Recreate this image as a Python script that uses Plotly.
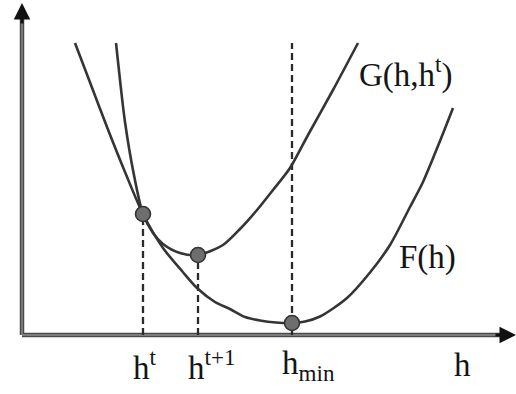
import plotly.graph_objects as go

# ---- data (arbitrary units; y-axis at h=0, x-axis at value 0) ----
F_h = [5.3, 6.9, 8.5, 10.3, 12.1, 14.1, 16.0, 17.5, 19.3, 20.8, 22.3, 23.8, 25.4, 27.0,
       28.3, 29.8, 32.5, 34.8, 36.8, 38.8, 40.1, 41.8, 43.1]
F_v = [29.2, 25.0, 20.8, 16.3, 12.1, 8.7, 6.4, 4.7, 3.3, 2.6, 1.8, 1.45, 1.25, 1.2,
       1.35, 1.85, 3.7, 6.25, 9.0, 12.8, 15.3, 19.4, 22.7]

G_h = [9.4, 9.8, 10.3, 11.1, 12.1, 13.1, 14.1, 15.8, 17.6, 20.1, 21.8, 23.5, 25.1, 26.8,
       28.6, 31.1, 33.6]
G_v = [29.2, 25.5, 21.3, 16.5, 12.1, 10.2, 9.1, 8.2, 8.0, 9.0, 10.6, 12.5, 14.5, 16.7,
       20.0, 24.5, 29.2]

pt_h = [12.1, 17.6, 27.0]      # h^t, h^{t+1}, h_min
pt_v = [12.1, 8.0, 1.2]        # values at those points
dash_top = [12.1, 8.0, 29.2]   # top of dashed guide lines
pt_labels = ["h<sup>t</sup>", "h<sup>t+1</sup>", "h<sub>min</sub>"]

X_MAX = 49.4
Y_MAX = 33.2

FONT = "Liberation Serif"
CURVE = "#353535"

fig = go.Figure()

# dashed guide lines
for h, top in zip(pt_h, dash_top):
    fig.add_trace(go.Scatter(x=[h, h], y=[0, top], mode="lines",
                             line=dict(color="#2a2a2a", width=2.3, dash="7px,4px"),
                             hoverinfo="skip", showlegend=False))

# curves
fig.add_trace(go.Scatter(x=F_h, y=F_v, mode="lines",
                         line=dict(color=CURVE, width=2.6, shape="spline", smoothing=0.8),
                         showlegend=False))
fig.add_trace(go.Scatter(x=G_h, y=G_v, mode="lines",
                         line=dict(color=CURVE, width=2.6, shape="spline", smoothing=0.8),
                         showlegend=False))

# points
fig.add_trace(go.Scatter(x=pt_h, y=pt_v, mode="markers",
                         marker=dict(size=15, color="#6e6e6e",
                                     line=dict(color="#333333", width=1.6)),
                         showlegend=False))

# axes lines
axis_style = [("#4a4a4a", 4.5), ("#8c8c8c", 1.4)]
for col, w in axis_style:
    fig.add_shape(type="line", x0=0, y0=0, x1=X_MAX - 1.5, y1=0,
                  line=dict(color=col, width=w), layer="below")
    fig.add_shape(type="line", x0=0, y0=0, x1=0, y1=Y_MAX - 1.5,
                  line=dict(color=col, width=w), layer="below")

# arrow heads
fig.add_annotation(x=X_MAX, y=0, ax=X_MAX - 2.2, ay=0, axref="x", ayref="y",
                   xref="x", yref="y", showarrow=True, arrowhead=2,
                   arrowsize=1.1, arrowwidth=3, arrowcolor="#111111", text="")
fig.add_annotation(x=0, y=Y_MAX, ax=0, ay=Y_MAX - 2.2, axref="x", ayref="y",
                   xref="x", yref="y", showarrow=True, arrowhead=2,
                   arrowsize=1.1, arrowwidth=3, arrowcolor="#111111", text="")

# labels
lab_font = dict(family=FONT, size=33, color="#151515")
for h, txt in zip(pt_h, pt_labels):
    fig.add_annotation(x=h - 1.25, y=-3.0, text=txt, showarrow=False,
                       xanchor="left", yanchor="middle", font=lab_font)
fig.add_annotation(x=43.0, y=-3.0, text="h", showarrow=False,
                   xanchor="left", yanchor="middle", font=lab_font)
fig.add_annotation(x=33.5, y=26.3, text="G(h,h<sup>t</sup>)", showarrow=False,
                   xanchor="left", yanchor="middle", font=lab_font)
fig.add_annotation(x=37.5, y=7.8, text="F(h)", showarrow=False,
                   xanchor="left", yanchor="middle", font=lab_font)

fig.update_layout(
    width=516, height=394,
    margin=dict(l=0, r=0, t=0, b=0),
    paper_bgcolor="white", plot_bgcolor="white",
    xaxis=dict(range=[-2.2, 49.4], visible=False, fixedrange=True),
    yaxis=dict(range=[-5.9, 33.5], visible=False, fixedrange=True),
    showlegend=False,
)

fig.write_html("out.html")
